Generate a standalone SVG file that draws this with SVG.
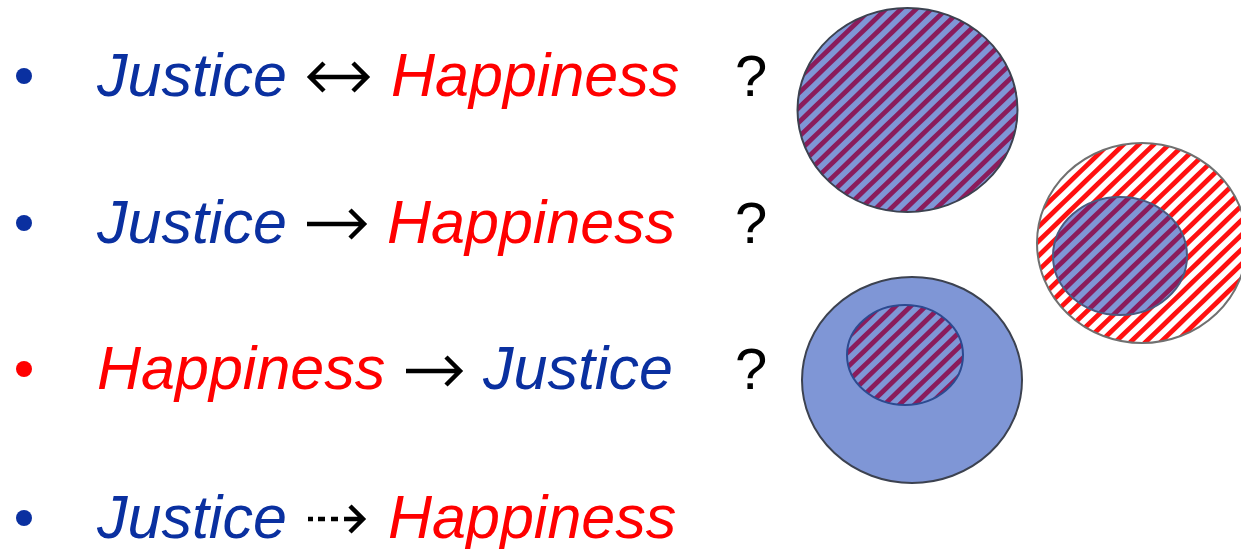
<svg xmlns="http://www.w3.org/2000/svg" width="1241" height="549" viewBox="0 0 1241 549">
<style>
.t{font-family:"Liberation Sans",Arial,sans-serif;font-size:61px;font-style:italic}
.j{fill:#0a30a0}
.h{fill:#ff0000}
.q{font-family:"Liberation Sans",Arial,sans-serif;font-size:58px;fill:#000}
.c{stroke:#3c4250;stroke-width:2}
.ar{fill:none;stroke:#000;stroke-width:4.5;stroke-linecap:butt;stroke-linejoin:miter}
</style>
<defs>
<pattern id="pb" patternUnits="userSpaceOnUse" width="10.5" height="10" patternTransform="rotate(46)">
<rect width="10.5" height="10" fill="#7f96d6"/><rect width="4.8" height="10" fill="#8a1c5c"/>
</pattern>
<pattern id="pr" patternUnits="userSpaceOnUse" width="10.5" height="10" patternTransform="rotate(46)">
<rect width="10.5" height="10" fill="#ffffff"/><rect width="4.8" height="10" fill="#ff1010"/>
</pattern>
</defs>
<rect width="1241" height="549" fill="#fff"/>
<g id="row1">
<circle cx="24" cy="76" r="8" fill="#0a30a0"/>
<text x="97" y="96" class="t j">Justice</text>
<text x="391" y="96" class="t h">Happiness</text>
<text x="735" y="96" class="q">?</text>
</g>
<g id="row2">
<circle cx="24" cy="223" r="8" fill="#0a30a0"/>
<text x="97" y="243" class="t j">Justice</text>
<text x="387" y="243" class="t h">Happiness</text>
<text x="735" y="243" class="q">?</text>
</g>
<g id="row3">
<circle cx="24" cy="369" r="8" fill="#ff0000"/>
<text x="97" y="389" class="t h">Happiness</text>
<text x="483" y="389" class="t j">Justice</text>
<text x="735" y="389" class="q">?</text>
</g>
<g id="row4">
<circle cx="24" cy="518" r="8" fill="#0a30a0"/>
<text x="97" y="538" class="t j">Justice</text>
<text x="388" y="538" class="t h">Happiness</text>
</g>
<g id="connectors">
<path class="ar" d="M311 77 H366 M324 63 L310 77 L324 91 M353 63 L367 77 L353 91"/>
<path class="ar" d="M307 224 H364 M350 210 L364 224 L350 238"/>
<path class="ar" d="M406 371 H460 M446 357 L460 371 L446 385"/>
<path class="ar" d="M308 519 H313 M318 519 H325 M331 519 H338 M344 519 H362 M350 506 L363 519 L350 532"/>
</g>
<g id="circle-equal">
<ellipse cx="907.5" cy="110" rx="110" ry="102" fill="url(#pb)" class="c"/>
</g>
<g id="circle-right">
<ellipse cx="1142" cy="243" rx="105" ry="100" fill="url(#pr)" stroke="#707070" stroke-width="2"/>
<ellipse cx="1120" cy="256" rx="67" ry="59" fill="url(#pb)" stroke="#4a5a80" stroke-width="2"/>
</g>
<g id="circle-bottom">
<ellipse cx="912" cy="380" rx="110" ry="103" fill="#7f96d6" class="c"/>
<ellipse cx="905" cy="355" rx="58" ry="50" fill="url(#pb)" stroke="#2c4a90" stroke-width="2"/>
</g>
</svg>
